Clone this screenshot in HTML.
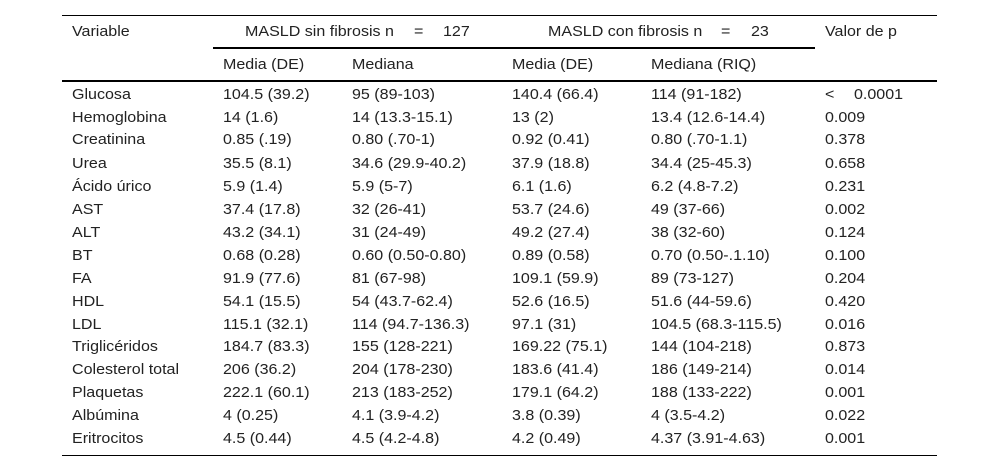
<!DOCTYPE html>
<html lang="es">
<head>
<meta charset="utf-8">
<title>MASLD</title>
<style>
html,body{margin:0;padding:0;background:#fff;}
#t{position:relative;width:1000px;height:471px;overflow:hidden;background:#fff;font-family:"Liberation Sans",sans-serif;font-size:15px;color:#222;}
.l{position:absolute;background:#000;}
.r{position:absolute;left:0;width:1000px;height:23px;line-height:23px;}
.r span{position:absolute;top:0;white-space:pre;transform:scaleX(1.07);transform-origin:0 0;}
.a{left:72px}.b{left:223px}.c{left:352px}.d{left:512px}.e{left:651px}.f{left:825px}
</style>
</head>
<body>
<div id="t">
<div class="l" style="left:62px;top:15px;width:875px;height:1px"></div>
<div class="l" style="left:213px;top:47px;width:602px;height:2px"></div>
<div class="l" style="left:62px;top:80px;width:875px;height:2px"></div>
<div class="l" style="left:62px;top:455px;width:875px;height:1px"></div>

<div class="r" style="top:20px">
<span class="a">Variable</span>
<span style="left:245px">MASLD sin fibrosis n</span>
<span style="left:414px">=</span>
<span style="left:443px">127</span>
<span style="left:548px">MASLD con fibrosis n</span>
<span style="left:721px">=</span>
<span style="left:751px">23</span>
<span class="f">Valor de p</span>
</div>
<div class="r" style="top:53px">
<span class="b">Media (DE)</span>
<span class="c">Mediana</span>
<span class="d">Media (DE)</span>
<span class="e">Mediana (RIQ)</span>
</div>

<div class="r" style="top:83px"><span class="a">Glucosa</span><span class="b">104.5 (39.2)</span><span class="c">95 (89-103)</span><span class="d">140.4 (66.4)</span><span class="e">114 (91-182)</span><span class="f">&lt;</span><span style="left:854px">0.0001</span></div>
<div class="r" style="top:106px"><span class="a">Hemoglobina</span><span class="b">14 (1.6)</span><span class="c">14 (13.3-15.1)</span><span class="d">13 (2)</span><span class="e">13.4 (12.6-14.4)</span><span class="f">0.009</span></div>
<div class="r" style="top:128px"><span class="a">Creatinina</span><span class="b">0.85 (.19)</span><span class="c">0.80 (.70-1)</span><span class="d">0.92 (0.41)</span><span class="e">0.80 (.70-1.1)</span><span class="f">0.378</span></div>
<div class="r" style="top:152px"><span class="a">Urea</span><span class="b">35.5 (8.1)</span><span class="c">34.6 (29.9-40.2)</span><span class="d">37.9 (18.8)</span><span class="e">34.4 (25-45.3)</span><span class="f">0.658</span></div>
<div class="r" style="top:175px"><span class="a">Ácido úrico</span><span class="b">5.9 (1.4)</span><span class="c">5.9 (5-7)</span><span class="d">6.1 (1.6)</span><span class="e">6.2 (4.8-7.2)</span><span class="f">0.231</span></div>
<div class="r" style="top:198px"><span class="a">AST</span><span class="b">37.4 (17.8)</span><span class="c">32 (26-41)</span><span class="d">53.7 (24.6)</span><span class="e">49 (37-66)</span><span class="f">0.002</span></div>
<div class="r" style="top:221px"><span class="a">ALT</span><span class="b">43.2 (34.1)</span><span class="c">31 (24-49)</span><span class="d">49.2 (27.4)</span><span class="e">38 (32-60)</span><span class="f">0.124</span></div>
<div class="r" style="top:244px"><span class="a">BT</span><span class="b">0.68 (0.28)</span><span class="c">0.60 (0.50-0.80)</span><span class="d">0.89 (0.58)</span><span class="e">0.70 (0.50-.1.10)</span><span class="f">0.100</span></div>
<div class="r" style="top:267px"><span class="a">FA</span><span class="b">91.9 (77.6)</span><span class="c">81 (67-98)</span><span class="d">109.1 (59.9)</span><span class="e">89 (73-127)</span><span class="f">0.204</span></div>
<div class="r" style="top:290px"><span class="a">HDL</span><span class="b">54.1 (15.5)</span><span class="c">54 (43.7-62.4)</span><span class="d">52.6 (16.5)</span><span class="e">51.6 (44-59.6)</span><span class="f">0.420</span></div>
<div class="r" style="top:313px"><span class="a">LDL</span><span class="b">115.1 (32.1)</span><span class="c">114 (94.7-136.3)</span><span class="d">97.1 (31)</span><span class="e">104.5 (68.3-115.5)</span><span class="f">0.016</span></div>
<div class="r" style="top:335px"><span class="a">Triglicéridos</span><span class="b">184.7 (83.3)</span><span class="c">155 (128-221)</span><span class="d">169.22 (75.1)</span><span class="e">144 (104-218)</span><span class="f">0.873</span></div>
<div class="r" style="top:358px"><span class="a">Colesterol total</span><span class="b">206 (36.2)</span><span class="c">204 (178-230)</span><span class="d">183.6 (41.4)</span><span class="e">186 (149-214)</span><span class="f">0.014</span></div>
<div class="r" style="top:381px"><span class="a">Plaquetas</span><span class="b">222.1 (60.1)</span><span class="c">213 (183-252)</span><span class="d">179.1 (64.2)</span><span class="e">188 (133-222)</span><span class="f">0.001</span></div>
<div class="r" style="top:404px"><span class="a">Albúmina</span><span class="b">4 (0.25)</span><span class="c">4.1 (3.9-4.2)</span><span class="d">3.8 (0.39)</span><span class="e">4 (3.5-4.2)</span><span class="f">0.022</span></div>
<div class="r" style="top:427px"><span class="a">Eritrocitos</span><span class="b">4.5 (0.44)</span><span class="c">4.5 (4.2-4.8)</span><span class="d">4.2 (0.49)</span><span class="e">4.37 (3.91-4.63)</span><span class="f">0.001</span></div>
</div>
</body>
</html>
